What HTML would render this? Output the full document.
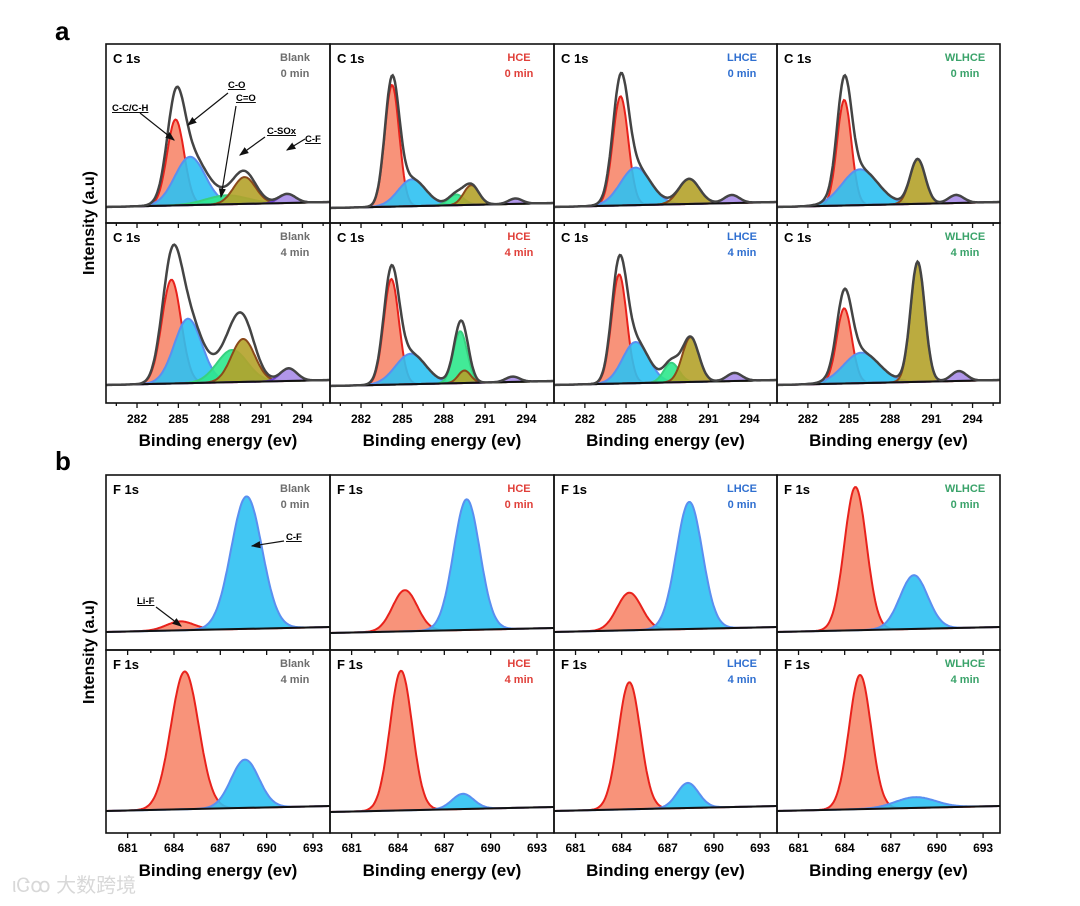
<!DOCTYPE html>
<html><head><meta charset="utf-8"><style>
html,body{margin:0;padding:0;background:#fff;}
svg{display:block;font-family:"Liberation Sans",Arial,sans-serif;}
</style></head><body>
<svg id="fig" width="1080" height="906" viewBox="0 0 1080 906" xmlns="http://www.w3.org/2000/svg">
<text x="55" y="40" font-size="26" font-weight="bold">a</text>
<text x="55" y="470" font-size="26" font-weight="bold">b</text>
<text transform="translate(94,223) rotate(-90)" text-anchor="middle" font-size="16" font-weight="bold">Intensity (a.u)</text>
<text transform="translate(94,652) rotate(-90)" text-anchor="middle" font-size="16" font-weight="bold">Intensity (a.u)</text>
<text x="12" y="892" font-size="20" fill="#d8d8d8" font-family="'Liberation Sans','Noto Sans CJK SC',sans-serif">ιᏣꝏ 大数跨境</text>
</svg>
<script>
// ---- data ----
const conditions = ["Blank","HCE","LHCE","WLHCE"];
const times = ["0 min","4 min"];
const condColors = ["#6e6e6e","#e0403a","#2f6fd0","#3aa36a"];
const cTicks = [282,285,288,291,294];
const fTicks = [681,684,687,690,693];
// C 1s components order: C-C/C-H, C-O, C=O, C-SOx, C-F
const cCenters = [
 [284.8,285.85,288.5,289.8,292.9],[284.25,285.7,288.9,290.0,293.2],[284.6,285.7,288.5,289.6,292.7],[284.65,285.8,288.5,290.0,292.8],
 [284.5,285.7,288.9,289.7,293.0],[284.2,285.6,289.2,289.5,293.0],[284.5,285.7,288.3,289.7,292.9],[284.65,285.9,288.5,290.0,293.0]];
const cHeights = [
 [0.48,0.27,0.05,0.15,0.05],[0.68,0.15,0.06,0.11,0.03],[0.61,0.21,0.0,0.14,0.045],[0.59,0.20,0.0,0.25,0.045],
 [0.58,0.36,0.18,0.24,0.07],[0.59,0.17,0.29,0.07,0.03],[0.61,0.23,0.11,0.25,0.045],[0.42,0.17,0.0,0.67,0.055]];
const cSigmas = [
 [0.62,1.1,1.5,0.8,0.6],[0.52,1.0,0.55,0.55,0.5],[0.56,1.1,1.0,0.75,0.55],[0.52,1.3,1.0,0.55,0.55],
 [0.7,1.0,1.1,0.85,0.6],[0.55,1.1,0.5,0.45,0.5],[0.55,0.95,0.55,0.6,0.55],[0.55,1.3,1.0,0.52,0.55]];
// F 1s components: Li-F, C-F
const fCenters = [
 [684.4,688.7],[684.45,688.45],[684.5,688.4],[684.7,688.5],
 [684.7,688.6],[684.2,688.2],[684.5,688.3],[685.0,688.6]];
const fHeights = [
 [0.05,0.74],[0.23,0.73],[0.21,0.71],[0.80,0.30],
 [0.77,0.27],[0.78,0.085],[0.71,0.14],[0.75,0.06]];
const fSigmas = [
 [0.9,1.0],[0.8,0.85],[0.8,0.85],[0.72,0.9],
 [0.9,0.9],[0.72,0.7],[0.72,0.7],[0.72,1.3]];

const cFill = ["#f7876c","#2ec1f2","#2ee88c","#b4a22a","#a88ce8"];
const cStroke = ["#e8221c","#5a8ff0","#38d080","#8b4a1a","#6a3fd0"];
const fFill = ["#f7876c","#2ec1f2"];
const fStroke = ["#e8221c","#5a8ff0"];

const NS="http://www.w3.org/2000/svg";
const svg=document.getElementById('fig');
function mk(tag,attrs,parent){const e=document.createElementNS(NS,tag);for(const k in attrs)e.setAttribute(k,attrs[k]);(parent||svg).appendChild(e);return e;}

const colX=[106,330,554,777], colW=[224,224,223,223];
function drawGroup(gi){
  const isC = gi===0;
  const rowsY = isC?[44,223]:[475,650];
  const rowsH = isC?[179,180]:[175,183];
  const dom = isC?[279.75,296]:[679.6,694.1];
  const ticks = isC?cTicks:fTicks;
  const centers=isC?cCenters:fCenters, heights=isC?cHeights:fHeights, sigmas=isC?cSigmas:fSigmas;
  const fills=isC?cFill:fFill, strokes=isC?cStroke:fStroke;
  const baseOff = isC?[16,18]:[18,22];
  for(let r=0;r<2;r++)for(let c=0;c<4;c++){
    const pi=r*4+c, x0=colX[c], w=colW[c], y0=rowsY[r], h=rowsH[r];
    const g=mk('g',{});
    
    
    const xs=v=>x0+(v-dom[0])/(dom[1]-dom[0])*w;
    const base=px=>y0+h-baseOff[r]+ (c===1?1:0) - (px-x0)/w*5;
    const N=200, pts=[];
    for(let i=0;i<=N;i++){const v=dom[0]+(dom[1]-dom[0])*i/N;pts.push(v);}
    const comp=(k,v)=>heights[pi][k]*179*Math.exp(-0.5*Math.pow((v-centers[pi][k])/sigmas[pi][k],2));
    const nk=centers[pi].length;
    for(let k=0;k<nk;k++){
      if(heights[pi][k]<=0)continue;
      let top='',bot='';
      pts.forEach((v,i)=>{const px=xs(v);top+=(i?'L':'M')+px.toFixed(1)+','+(base(px)-comp(k,v)).toFixed(1);});
      for(let i=pts.length-1;i>=0;i--){const px=xs(pts[i]);bot+='L'+px.toFixed(1)+','+base(px).toFixed(1);}
      const f=mk('path',{d:top+bot+'Z',fill:fills[k],'fill-opacity':0.9,stroke:'none'},g);
      
      
      const s=mk('path',{d:top,fill:'none',stroke:strokes[k],'stroke-width':2},g);
      
      
    }
    const bl=mk('path',{d:'M'+x0+','+base(x0)+'L'+(x0+w)+','+base(x0+w),stroke:'#111','stroke-width':2,fill:'none'},g);
    
    
    if(isC){
      let d='';
      pts.forEach((v,i)=>{const px=xs(v);let s=0;for(let k=0;k<nk;k++)s+=comp(k,v);d+=(i?'L':'M')+px.toFixed(1)+','+(base(px)-s).toFixed(1);});
      const env=mk('path',{d:d,fill:'none',stroke:'#444','stroke-width':2.5},g);
      
      
    }
    const fr=mk('rect',{x:x0,y:y0,width:w,height:h,fill:'none',stroke:'#111','stroke-width':1.6},g);
    
    
    const t1=mk('text',{x:x0+7,y:y0+19,'font-size':13,'font-weight':'bold'},g);
    t1.textContent=isC?'C 1s':'F 1s';
    
    
    const cx=x0+w-35;
    const t2=mk('text',{x:cx,y:y0+17,'font-size':11,'font-weight':'bold','text-anchor':'middle',fill:condColors[c]},g);
    t2.textContent=conditions[c];
    
    
    const t3=mk('text',{x:cx,y:y0+33,'font-size':11,'font-weight':'bold','text-anchor':'middle',fill:condColors[c]},g);
    t3.textContent=times[r];
    
    
    const yb=y0+h;
    for(let v=ticks[0]-1.5;v<=dom[1];v+=1.5){
      if(v<dom[0])continue;
      const px=xs(v), major=Math.abs(((v-ticks[0])/3)-Math.round((v-ticks[0])/3))<0.01;
      const tk=mk('line',{x1:px,x2:px,y1:yb,y2:yb+(major?5:3),stroke:'#111','stroke-width':1.3},g);
      
      
    }
    if(r===1){
      ticks.forEach(v=>{
        const tl=mk('text',{x:xs(v),y:yb+(isC?20:19),'font-size':12,'font-weight':'bold','text-anchor':'middle'},g);
        tl.textContent=v;
        
        
      });
      const xt=mk('text',{x:x0+w/2,y:yb+43,'font-size':17,'font-weight':'bold','text-anchor':'middle'},g);
      xt.textContent='Binding energy (ev)';
      
      
    }
  }
}
drawGroup(0);drawGroup(1);

mk('defs',{}).innerHTML='<marker id="ah" markerWidth="8" markerHeight="8" refX="7" refY="4" orient="auto"><path d="M0,1 L8,4 L0,7 Z" fill="#111"/></marker>';
const ann=[
 ['C-C/C-H',112,111,140,113,174,140],
 ['C-O',228,88,228,93,188,125],
 ['C=O',236,101,236,106,221,197],
 ['C-SOx',267,134,265,137,240,155],
 ['C-F',305,142,305,139,287,150],
 ['Li-F',137,604,156,607,181,626],
 ['C-F',286,540,284,541,252,546]
];
ann.forEach((a,i)=>{
  const t=mk('text',{x:a[1],y:a[2],'font-size':9.5,'font-weight':'bold','text-decoration':'underline'});
  t.textContent=a[0];
  
  
  const l=mk('line',{x1:a[3],y1:a[4],x2:a[5],y2:a[6],stroke:'#111','stroke-width':1.2,'marker-end':'url(#ah)'});
  
  
});
</script>
</body></html>
